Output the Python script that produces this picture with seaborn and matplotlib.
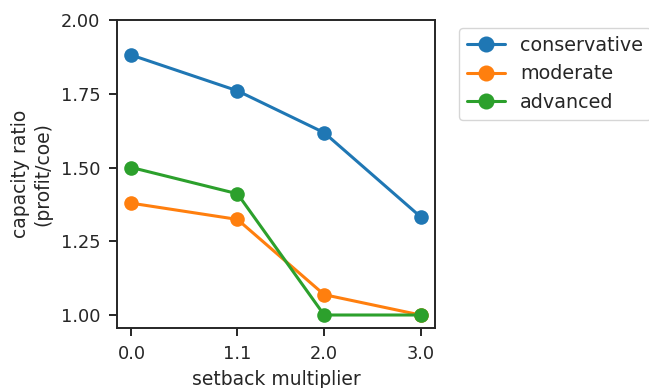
import matplotlib
matplotlib.use("Agg")
import matplotlib.pyplot as plt
import seaborn as sns
import pandas as pd
from matplotlib.ticker import MultipleLocator

setback = [0.0, 1.1, 2.0, 3.0]
conservative = [1.881, 1.760, 1.618, 1.333]
moderate = [1.379, 1.324, 1.069, 1.000]
advanced = [1.500, 1.411, 1.000, 1.000]
scenarios = ["conservative", "moderate", "advanced"]
xtick_labels = ["0.0", "1.1", "2.0", "3.0"]

rows = []
for name, vals in zip(scenarios, [conservative, moderate, advanced]):
    for x, v in zip(setback, vals):
        rows.append({"setback multiplier": x, "capacity ratio": v, "scenario": name})
df = pd.DataFrame(rows)

sns.set_theme(style="ticks")
plt.rcParams["font.family"] = ["DejaVu Sans"]
plt.rcParams["axes.linewidth"] = 1.4
plt.rcParams["text.color"] = ".15"
plt.rcParams["axes.labelcolor"] = ".15"
plt.rcParams["xtick.color"] = ".15"
plt.rcParams["ytick.color"] = ".15"

fig = plt.figure(figsize=(6.49, 3.88), dpi=100)
ax = fig.add_axes([117 / 649, 60 / 388, 318 / 649, 308 / 388])

palette = ["#1f77b4", "#ff7f0e", "#2ca02c"]
sns.lineplot(data=df, x="setback multiplier", y="capacity ratio", hue="scenario",
             hue_order=scenarios, palette=palette, marker="o", markersize=10.5,
             linewidth=2.2, markeredgewidth=0, ax=ax, legend=True)

ax.set_ylim(top=2.0)
ax.yaxis.set_major_locator(MultipleLocator(0.25))
ax.set_xticks(setback)
ax.set_xticklabels(xtick_labels)
ax.tick_params(axis="both", labelsize=12.8, length=6, width=1.4, pad=6)
ax.set_xlabel("setback multiplier", fontsize=13.5, labelpad=5)
ax.set_ylabel("capacity ratio\n(profit/coe)", fontsize=13.5, labelpad=6)

handles, labels = ax.get_legend_handles_labels()
ax.legend(handles, labels, loc="upper left", bbox_to_anchor=(459 / 649, 1 - 28 / 388),
          bbox_transform=fig.transFigure, borderaxespad=0, fontsize=13.8, frameon=True,
          labelspacing=0.5, markerscale=1.1)

fig.savefig("out.png", dpi=100)
